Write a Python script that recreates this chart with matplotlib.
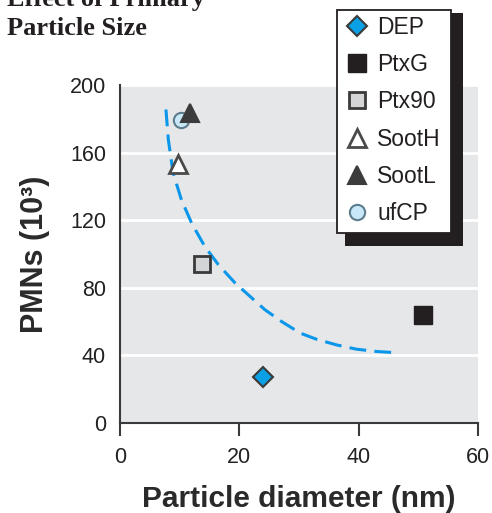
import matplotlib
matplotlib.use("Agg")
import matplotlib.pyplot as plt
from matplotlib.patches import Rectangle
from matplotlib.lines import Line2D

# ---- data ----
series = ["DEP", "PtxG", "Ptx90", "SootH", "SootL", "ufCP"]
diameter = [24.0, 50.7, 13.7, 9.7, 11.8, 10.2]
pmns = [27.0, 64.0, 94.0, 153.0, 183.5, 179.5]

curve_x = [7.7, 8.1, 8.9, 10.3, 12.0, 14.2, 16.5, 19.3, 21.8, 24.3, 27.1,
           30.2, 32.9, 36.3, 39.6, 43.0, 45.8]
curve_y = [185.5, 167.7, 148.0, 132.0, 118.3, 104.5, 93.6, 82.8, 74.9, 67.0,
           60.0, 53.2, 49.6, 46.2, 43.7, 42.3, 41.7]

xticks = [0, 20, 40, 60]
yticks = [0, 40, 80, 120, 160, 200]

# ---- styles ----
styles = {
    "DEP":   dict(marker="D", ms=10,  mfc="#0aa0e6", mec="#3a3a3a", mew=1.5),
    "PtxG":  dict(marker="s", ms=13,  mfc="#231f20", mec="#231f20", mew=1.0),
    "Ptx90": dict(marker="s", ms=12,  mfc="#d4d5d6", mec="#3a3a3a", mew=2.0),
    "SootH": dict(marker="^", ms=13,  mfc="white",   mec="#4a4a4a", mew=2.0),
    "SootL": dict(marker="^", ms=13,  mfc="#3c3c3c", mec="#3c3c3c", mew=1.5),
    "ufCP":  dict(marker="o", ms=11,  mfc="#c9e8f7", mec="#5c7d8d", mew=1.5),
}
zorders = {"DEP": 5, "PtxG": 5, "Ptx90": 5, "SootH": 5, "SootL": 6, "ufCP": 5}

sans = ["Liberation Sans", "DejaVu Sans"]

W, H = 492, 513
fig = plt.figure(figsize=(W / 100, H / 100), dpi=100)
ax = fig.add_axes([120 / W, (H - 423) / H, 358 / W, 338 / H])
ax.set_facecolor("#e6e7e8")

ax.plot(curve_x, curve_y, color="#0a96ea", lw=2.2,
        linestyle=(0, (5.5, 2.7)), solid_capstyle="butt", zorder=3)

for name, x, y in zip(series, diameter, pmns):
    ax.plot([x], [y], linestyle="none", zorder=zorders[name], **styles[name])

ax.set_xlim(0, 60)
ax.set_ylim(0, 200)
ax.set_xticks(xticks)
ax.set_yticks(yticks)
ax.yaxis.grid(True, color="white", lw=2.0)
ax.set_axisbelow(True)

for s in ["top", "right"]:
    ax.spines[s].set_visible(False)
for s in ["left", "bottom"]:
    ax.spines[s].set_color("#3a3a3a")
    ax.spines[s].set_linewidth(1.5)

ax.tick_params(axis="x", direction="out", length=9.5, width=1.5,
               color="#3a3a3a", pad=8)
ax.tick_params(axis="y", length=0, pad=10)
for lab in ax.get_xticklabels() + ax.get_yticklabels():
    lab.set_fontfamily(sans)
    lab.set_fontsize(15.5)
    lab.set_color("#222222")

ax.set_xlabel("Particle diameter (nm)", family=sans, fontsize=21.5,
              fontweight="bold", color="#2a2a2a", labelpad=12)
ax.set_ylabel("PMNs (10³)", family=sans, fontsize=22,
              fontweight="bold", color="#2a2a2a", labelpad=14)

# ---- title (top line cut by figure edge) ----
serif = ["Liberation Serif", "DejaVu Serif"]
fig.text(7 / W, (H - 6) / H, "Effect of Primary", family=serif,
         fontweight="bold", fontsize=19, color="#231f20", va="baseline")
fig.text(7 / W, (H - 35) / H, "Particle Size", family=serif,
         fontweight="bold", fontsize=19, color="#231f20", va="baseline")

# ---- legend with drop shadow ----
fig.patches.append(Rectangle((345 / W, (H - 246) / H), 118 / W, 233 / H,
                             transform=fig.transFigure, facecolor="#231f20",
                             edgecolor="none", zorder=1))
fig.patches.append(Rectangle((337 / W, (H - 233) / H), 114 / W, 223 / H,
                             transform=fig.transFigure, facecolor="white",
                             edgecolor="#231f20", lw=1.3, zorder=2))

handles = [Line2D([], [], linestyle="none", **styles[n]) for n in series]
leg = fig.legend(handles, series, loc="upper left",
                 bbox_to_anchor=(344 / W, (H - 16) / H),
                 frameon=False, borderpad=0, borderaxespad=0,
                 handlelength=1.1, handletextpad=0.35, labelspacing=0.62,
                 numpoints=1, prop={"family": sans, "size": 16.5})
leg.set_zorder(3)
for t in leg.get_texts():
    t.set_color("#231f20")

fig.savefig("out.png", dpi=100)
